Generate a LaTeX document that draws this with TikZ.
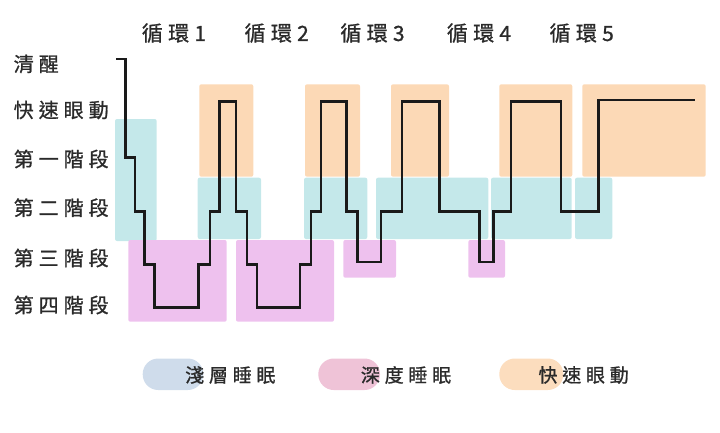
\documentclass[tikz,border=0pt]{standalone}
\usepackage{fontspec}
\newfontfamily\cjk[LetterSpace=25,FakeBold=1.0]{Noto Sans CJK TC}
\definecolor{shallow}{HTML}{C4E8EA}
\definecolor{rem}{HTML}{FCD9B6}
\definecolor{deep}{HTML}{EEC1EE}
\definecolor{lgshallow}{HTML}{CFDCEB}
\definecolor{lgdeep}{HTML}{EFC3D7}
\definecolor{lgrem}{HTML}{FCDDBE}
\definecolor{txt}{HTML}{2A2A2A}
\definecolor{ink}{HTML}{1A1A1A}
\tikzset{
  bx/.style={rounded corners=2pt, draw=none},
  stagelbl/.style={font=\cjk\fontsize{20}{22}\selectfont, text=txt, inner sep=0pt, anchor=west},
  cyclbl/.style={font=\cjk\fontsize{21}{23}\selectfont, text=txt, inner sep=0pt},
  leglbl/.style={font=\cjk\fontsize{19}{21}\selectfont, text=txt, inner sep=0pt, anchor=west},
  pill/.style={rounded corners=15.5pt, draw=none},
  hyp/.style={draw=ink, line width=2.4pt, line join=miter}
}
\begin{document}
\begin{tikzpicture}[x=1pt,y=-1pt]
\useasboundingbox (0,0) rectangle (720,432);
% shallow sleep boxes
\fill[bx,shallow] (115,119) rectangle (156.7,241);
\foreach \a/\b in {197.7/261, 304/367.3, 376/488.3, 491/571.7, 575/612.3}
  \fill[bx,shallow] (\a,177.7) rectangle (\b,239);
% REM boxes
\foreach \a/\b in {199.3/253.3, 305/360, 391/449, 499.3/572.3, 582.3/705.7}
  \fill[bx,rem] (\a,84.3) rectangle (\b,176.7);
% deep sleep boxes
\fill[bx,deep] (128.3,240) rectangle (226.7,321.7);
\fill[bx,deep] (236,240) rectangle (334,321.7);
\fill[bx,deep] (343.3,240) rectangle (396,277.7);
\fill[bx,deep] (468.3,240) rectangle (505,277.7);
% hypnogram
\coordinate (start) at (116,59);
\coordinate (finish) at (695,100);
\draw[hyp] (start) -- (125.5,59) -- (125.5,157.5) -- (134.7,157.5) -- (134.7,211.5)
  -- (144.3,211.5) -- (144.3,264.5) -- (154.3,264.5) -- (154.3,307.5)
  -- (198.3,307.5) -- (198.3,264.5) -- (210,264.5) -- (210,211.5)
  -- (219.3,211.5) -- (219.3,101.5) -- (236,101.5) -- (236,211.5)
  -- (246.7,211.5) -- (246.7,264.5) -- (256.7,264.5) -- (256.7,307.5)
  -- (300,307.5) -- (300,264.5) -- (310.7,264.5) -- (310.7,211.5)
  -- (320.7,211.5) -- (320.7,101.5) -- (346.5,101.5) -- (346.5,211.5)
  -- (357.5,211.5) -- (357.5,262) -- (380.7,262) -- (380.7,211.5)
  -- (401.7,211.5) -- (401.7,101.5) -- (439.3,101.5) -- (439.3,211.5)
  -- (479.3,211.5) -- (479.3,262) -- (493.3,262) -- (493.3,211.5)
  -- (510.7,211.5) -- (510.7,101.5) -- (561,101.5) -- (561,211.5)
  -- (598.3,211.5) -- (598.3,100) -- (finish);
% stage labels
\node[stagelbl] (wake) at (13.5,64) {清醒};
\node[stagelbl] (remlbl) at (13.5,110) {快速眼動};
\node[stagelbl] (s1) at (13.5,159) {第一階段};
\node[stagelbl] (s2) at (13.5,207.7) {第二階段};
\node[stagelbl] (s3) at (13.5,258) {第三階段};
\node[stagelbl] (s4) at (13.5,305) {第四階段};
% cycle labels
\node[cyclbl] (c1) at (174,33) {循環1};
\node[cyclbl] (c2) at (276.7,33) {循環2};
\node[cyclbl] (c3) at (372.5,33) {循環3};
\node[cyclbl] (c4) at (479,33) {循環4};
\node[cyclbl] (c5) at (581.7,33) {循環5};
% legend
\fill[pill,lgshallow] (142.7,358.5) rectangle (203.3,390);
\fill[pill,lgdeep] (318.3,358.5) rectangle (380,390);
\fill[pill,lgrem] (499.3,358.5) rectangle (563.3,390);
\node[leglbl] (lg1) at (185,375) {淺層睡眠};
\node[leglbl] (lg2) at (360.7,375) {深度睡眠};
\node[leglbl] (lg3) at (538.3,375) {快速眼動};
\end{tikzpicture}
\end{document}
